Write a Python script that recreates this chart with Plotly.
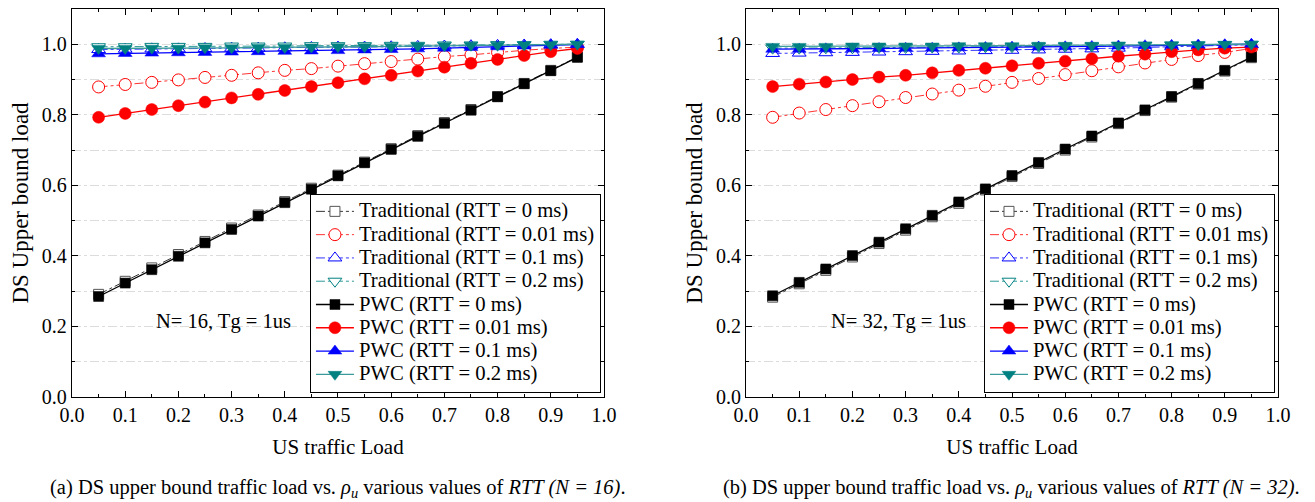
import plotly.graph_objects as go

# ---------------- data ----------------
us_load = [0.05, 0.10, 0.15, 0.20, 0.25, 0.30, 0.35, 0.40, 0.45, 0.50,
           0.55, 0.60, 0.65, 0.70, 0.75, 0.80, 0.85, 0.90, 0.95]

series_names = ["Traditional (RTT = 0 ms)", "Traditional (RTT = 0.01 ms)",
                "Traditional (RTT = 0.1 ms)", "Traditional (RTT = 0.2 ms)",
                "PWC (RTT = 0 ms)", "PWC (RTT = 0.01 ms)",
                "PWC (RTT = 0.1 ms)", "PWC (RTT = 0.2 ms)"]

# N = 16
trad0_16 = [0.291, 0.328, 0.366, 0.404, 0.441, 0.479, 0.516, 0.554, 0.592, 0.629,
            0.666, 0.704, 0.741, 0.778, 0.815, 0.852, 0.889, 0.926, 0.964]
trad001_16 = [0.879, 0.886, 0.892, 0.899, 0.906, 0.912, 0.919, 0.926, 0.931, 0.938,
              0.945, 0.951, 0.958, 0.965, 0.970, 0.977, 0.983, 0.988, 0.992]
trad01_16 = [0.985, 0.986, 0.987, 0.987, 0.988, 0.989, 0.989, 0.990, 0.991, 0.992,
             0.992, 0.993, 0.994, 0.995, 0.996, 0.997, 0.998, 0.999, 1.000]
trad02_16 = [0.993, 0.993, 0.994, 0.994, 0.994, 0.995, 0.995, 0.995, 0.996, 0.996,
             0.996, 0.997, 0.997, 0.998, 0.998, 0.999, 0.999, 1.000, 1.000]
pwc0_16 = [0.285, 0.323, 0.361, 0.399, 0.437, 0.475, 0.513, 0.551, 0.589, 0.627,
           0.664, 0.702, 0.739, 0.776, 0.813, 0.851, 0.888, 0.925, 0.963]
pwc001_16 = [0.793, 0.804, 0.815, 0.826, 0.836, 0.848, 0.858, 0.869, 0.880, 0.891,
             0.902, 0.912, 0.924, 0.935, 0.946, 0.957, 0.968, 0.979, 0.988]
pwc01_16 = [0.973, 0.974, 0.975, 0.976, 0.977, 0.978, 0.979, 0.980, 0.981, 0.982,
            0.984, 0.985, 0.987, 0.989, 0.991, 0.993, 0.995, 0.997, 0.999]
pwc02_16 = [0.988, 0.988, 0.989, 0.989, 0.990, 0.990, 0.991, 0.991, 0.992, 0.993,
            0.993, 0.994, 0.995, 0.996, 0.997, 0.997, 0.998, 0.999, 1.000]

# N = 32
trad0_32 = [0.283, 0.321, 0.359, 0.397, 0.435, 0.473, 0.511, 0.549, 0.587, 0.625,
            0.662, 0.700, 0.737, 0.775, 0.812, 0.850, 0.887, 0.924, 0.962]
trad001_32 = [0.793, 0.805, 0.815, 0.826, 0.837, 0.849, 0.859, 0.870, 0.881, 0.892,
              0.903, 0.914, 0.925, 0.936, 0.947, 0.957, 0.968, 0.977, 0.988]
trad01_32 = [0.974, 0.975, 0.976, 0.977, 0.978, 0.979, 0.980, 0.981, 0.982, 0.983,
             0.984, 0.986, 0.987, 0.989, 0.991, 0.993, 0.995, 0.997, 0.999]
trad02_32 = [0.989, 0.989, 0.990, 0.990, 0.991, 0.991, 0.992, 0.992, 0.993, 0.993,
             0.994, 0.994, 0.995, 0.996, 0.997, 0.997, 0.998, 0.999, 1.000]
pwc0_32 = [0.287, 0.325, 0.363, 0.401, 0.439, 0.477, 0.515, 0.553, 0.590, 0.628,
           0.665, 0.703, 0.740, 0.777, 0.814, 0.852, 0.889, 0.926, 0.964]
pwc001_32 = [0.880, 0.887, 0.893, 0.900, 0.907, 0.912, 0.919, 0.926, 0.932, 0.939,
             0.946, 0.952, 0.959, 0.966, 0.972, 0.979, 0.984, 0.989, 0.992]
pwc01_32 = [0.986, 0.986, 0.987, 0.987, 0.988, 0.989, 0.989, 0.990, 0.991, 0.992,
            0.992, 0.993, 0.994, 0.995, 0.996, 0.997, 0.998, 0.999, 1.000]
pwc02_32 = [0.994, 0.994, 0.994, 0.995, 0.995, 0.995, 0.995, 0.996, 0.996, 0.996,
            0.997, 0.997, 0.997, 0.998, 0.998, 0.999, 0.999, 1.000, 1.000]

x_ticks = [0.0, 0.1, 0.2, 0.3, 0.4, 0.5, 0.6, 0.7, 0.8, 0.9, 1.0]
y_ticks = [0.0, 0.2, 0.4, 0.6, 0.8, 1.0]

panel_notes = ["N= 16, Tg = 1us", "N= 32, Tg = 1us"]
captions = ["(a) DS upper bound traffic load vs. <i>ρ<sub>u</sub></i> various values of <i>RTT (N = 16)</i>.",
            "(b) DS upper bound traffic load vs. <i>ρ<sub>u</sub></i> various values of <i>RTT (N = 32)</i>."]

# ---------------- styles ----------------
FONT = "Liberation Serif, Times New Roman, serif"
colors = ["#000000", "#FF0000", "#0000FF", "#008080"]
trad_line_colors = ["#333333", "#FF3333", "#3333FF", "#2E9A9A"]
symbols = ["square", "circle", "triangle-up", "triangle-down"]
msizes = [10, 12, 12, 12]

panels = [
    ([trad0_16, trad001_16, trad01_16, trad02_16], [pwc0_16, pwc001_16, pwc01_16, pwc02_16]),
    ([trad0_32, trad001_32, trad01_32, trad02_32], [pwc0_32, pwc001_32, pwc01_32, pwc02_32]),
]


def legend_label(s):
    return '<span style="font-size:20.7px">' + s + '</span>'


fig = go.Figure()
for p, (trads, pwcs) in enumerate(panels):
    xa = "x" if p == 0 else "x2"
    ya = "y" if p == 0 else "y2"
    leg = "legend" if p == 0 else "legend2"
    for i, vals in enumerate(trads):
        fig.add_trace(go.Scatter(
            x=us_load, y=vals, xaxis=xa, yaxis=ya, legend=leg,
            name=legend_label(series_names[i]), mode="lines+markers",
            line=dict(color=trad_line_colors[i], width=1, dash="dashdot"),
            marker=dict(symbol=symbols[i], size=msizes[i], color="white",
                        line=dict(color=colors[i] if i else "#555555", width=1)),
        ))
    for i, vals in enumerate(pwcs):
        fig.add_trace(go.Scatter(
            x=us_load, y=vals, xaxis=xa, yaxis=ya, legend=leg,
            name=legend_label(series_names[4 + i]), mode="lines+markers",
            line=dict(color=colors[i] if i < 3 else "#3A9A9A", width=1.3),
            marker=dict(symbol=symbols[i], size=msizes[i], color=colors[i],
                        line=dict(color=colors[i], width=0.5)),
        ))

axis_common = dict(
    showline=True, linecolor="black", linewidth=1.3, mirror="ticks",
    ticks="inside", ticklen=6, tickcolor="black", tickwidth=1,
    tickfont=dict(family=FONT, size=20, color="black"),
    zeroline=False,
)

GRID = "#DCDCDC"
xdom = [[0.0, 0.4411], [0.5589, 1.0]]
for p in range(2):
    sfx = "" if p == 0 else "2"
    fig.update_layout(**{
        "xaxis" + sfx: dict(
            axis_common, domain=xdom[p], range=[0, 1], tickvals=x_ticks,
            tickformat=".1f", showgrid=False, anchor="y" + sfx,
            minor=dict(dtick=0.05, tick0=0, ticks="inside", ticklen=3, tickcolor="black", showgrid=False),
            title=dict(text="US traffic Load", font=dict(family=FONT, size=21, color="black"), standoff=14),
        ),
        "yaxis" + sfx: dict(
            axis_common, range=[0, 1.1], tickvals=y_ticks, tickformat=".1f",
            anchor="x" + sfx, showgrid=True, gridcolor=GRID, griddash="dashdot", gridwidth=1,
            minor=dict(dtick=0.1, tick0=0, ticks="inside", ticklen=3, tickcolor="black",
                       showgrid=True, gridcolor=GRID, griddash="dashdot", gridwidth=1),
            title=dict(text="DS Upper bound load", font=dict(family=FONT, size=23, color="black"), standoff=6),
        ),
    })

legend_common = dict(
    bgcolor="white", bordercolor="black", borderwidth=1,
    font=dict(family=FONT, size=15.6, color="black"),
    xanchor="right", yanchor="bottom", itemwidth=38, tracegroupgap=0,
)
fig.update_layout(
    legend=dict(legend_common, x=0.4386, y=0.011),
    legend2=dict(legend_common, x=0.9975, y=0.011),
)

annotations = []
note_x = [0.285, 0.286]
for p in range(2):
    sfx = "" if p == 0 else "2"
    annotations.append(dict(
        x=note_x[p], y=0.213, xref="x" + sfx, yref="y" + sfx, text=panel_notes[p],
        showarrow=False, font=dict(family=FONT, size=20.5, color="black")))
cap_px = [338, 1011]
for p in range(2):
    annotations.append(dict(
        x=(cap_px[p] - 72) / 1206, y=-(488 - 397) / 388, xref="paper", yref="paper",
        xanchor="center", yanchor="middle", text=captions[p], showarrow=False,
        font=dict(family=FONT, size=20.5, color="black")))
fig.update_layout(annotations=annotations)

fig.update_layout(
    width=1315, height=502,
    margin=dict(l=72, r=37, t=9, b=105, autoexpand=False),
    paper_bgcolor="white", plot_bgcolor="white",
    showlegend=True,
    font=dict(family=FONT, color="black"),
)

fig.write_html("out.html")
